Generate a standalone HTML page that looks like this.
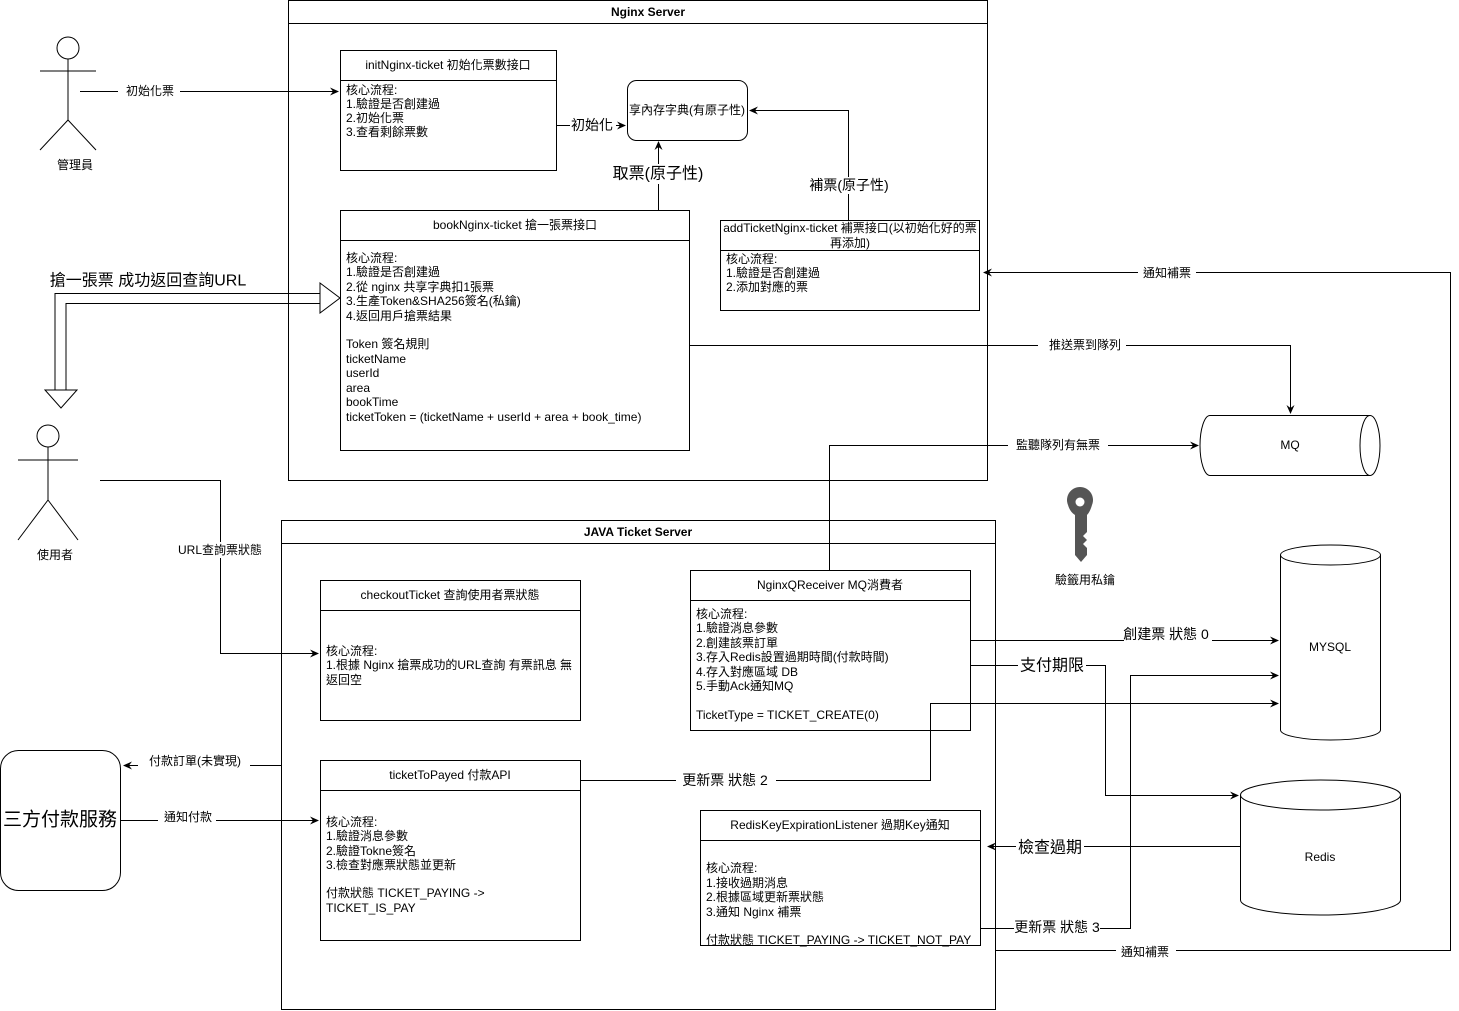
<!DOCTYPE html>
<html><head><meta charset="utf-8"><style>
html,body{margin:0;padding:0;background:#fff;}
svg{display:block;font-family:"Liberation Sans","Noto Sans CJK TC",sans-serif;}
text{dominant-baseline:central;fill:#000;}
</style></head><body>
<svg width="1459" height="1011" viewBox="0 0 1459 1011" xmlns="http://www.w3.org/2000/svg">
<defs>
<marker id="a" markerWidth="10" markerHeight="10" refX="8" refY="4" orient="auto" markerUnits="userSpaceOnUse"><path d="M0,0 L9,4 L0,8 L3,4 z" fill="#000"/></marker>
</defs>
<g fill="none" stroke="#000" stroke-width="1">
<!-- Nginx frame -->
<rect x="288.5" y="0.5" width="699" height="480"/>
<line x1="288" y1="23.5" x2="988" y2="23.5"/>
<!-- init box -->
<rect x="340.5" y="50.5" width="216" height="120"/>
<line x1="340" y1="80.5" x2="557" y2="80.5"/>
<rect x="627.5" y="80.5" width="120" height="60" rx="9"/>
<rect x="340.5" y="210.5" width="349" height="240"/>
<line x1="340" y1="240.5" x2="690" y2="240.5"/>
<rect x="720.5" y="220.5" width="259" height="90"/>
<line x1="720" y1="250.5" x2="980" y2="250.5"/>
<!-- MQ cylinder -->
<path d="M1210,415.5 H1370 A10,30 0 0 1 1370,475.5 H1210 A10,30 0 0 1 1210,415.5 Z"/>
<path d="M1370,415.5 A10,30 0 0 0 1370,475.5"/>
<!-- Java frame -->
<rect x="281.5" y="520.5" width="714" height="489"/>
<line x1="281" y1="543.5" x2="996" y2="543.5"/>
<rect x="320.5" y="580.5" width="260" height="140"/>
<line x1="320" y1="610.5" x2="581" y2="610.5"/>
<rect x="690.5" y="570.5" width="280" height="160"/>
<line x1="690" y1="600.5" x2="971" y2="600.5"/>
<rect x="320.5" y="760.5" width="260" height="180"/>
<line x1="320" y1="790.5" x2="581" y2="790.5"/>
<rect x="700.5" y="810.5" width="280" height="135"/>
<line x1="700" y1="840.5" x2="981" y2="840.5"/>
<!-- MYSQL -->
<path d="M1280.5,555 V730 A50,10 0 0 0 1380.5,730 V555"/>
<ellipse cx="1330.5" cy="555" rx="50" ry="10"/>
<!-- Redis -->
<path d="M1240.5,795 V900 A80,15 0 0 0 1400.5,900 V795"/>
<ellipse cx="1320.5" cy="795" rx="80" ry="15"/>
<!-- 三方 -->
<rect x="0.5" y="750.5" width="120" height="140" rx="18"/>
<!-- actors -->
<circle cx="68" cy="48" r="11"/>
<line x1="68" y1="59" x2="68" y2="120"/><line x1="40" y1="71" x2="96" y2="71"/>
<line x1="68" y1="120" x2="40" y2="150"/><line x1="68" y1="120" x2="96" y2="150"/>
<circle cx="48" cy="436" r="11"/>
<line x1="48" y1="447" x2="48" y2="500"/><line x1="18" y1="460" x2="78" y2="460"/>
<line x1="48" y1="500" x2="18" y2="540"/><line x1="48" y1="500" x2="78" y2="540"/>
<!-- hollow arrow -->
<path d="M55,390 V293.5 H320 M66,390 V303.5 H320"/>
<path d="M320,283 L340,298 L320,313 Z M45,390 L77,390 L61,408 Z" fill="#fff"/>
<!-- connectors -->
<g marker-end="url(#a)">
<path d="M80,91.5 H338"/>
<path d="M557,125.5 H625"/>
<path d="M658.5,210 V142"/>
<path d="M848.5,220 V110.5 H750"/>
<path d="M996,950.5 H1450.5 V272.5 H984"/>
<path d="M690,345.5 H1290.5 V413"/>
<path d="M829.5,570 V445.5 H1198"/>
<path d="M100,480.5 H220.5 V653.5 H318"/>
<path d="M281,765.5 H124"/>
<path d="M120,820.5 H318"/>
<path d="M580,780.5 H930.5 V703.5 H1278"/>
<path d="M970,640.5 H1278"/>
<path d="M970,665.5 H1105.5 V795.5 H1238"/>
<path d="M980,928.5 H1130.5 V675.5 H1278"/>
<path d="M1240,846.5 H988"/>
</g>
</g>
<!-- key -->
<g fill="#555">
<path d="M1068,505 A13,13 0 1 1 1092,505 Q1090,512 1087,515 V532 L1083,536 L1087,540 L1083,544 L1087,548 V555 L1081,562 L1075,555 V515 Q1070,512 1068,505 Z"/>
</g>
<circle cx="1080" cy="502" r="4.5" fill="#fff"/>
<!-- label backgrounds -->
<g fill="#fff">
<rect x="118" y="83" width="62" height="16"/><rect x="570" y="117" width="46" height="18"/>
<rect x="612" y="164" width="92" height="20"/><rect x="808" y="177" width="82" height="17"/>
<rect x="1138" y="265" width="58" height="16"/><rect x="1038" y="337" width="88" height="16"/>
<rect x="1008" y="437" width="100" height="16"/><rect x="170" y="542" width="100" height="16"/>
<rect x="138" y="753" width="112" height="16"/><rect x="158" y="809" width="58" height="16"/>
<rect x="676" y="772" width="100" height="17"/><rect x="1124" y="625" width="88" height="17"/>
<rect x="1018" y="655" width="68" height="20"/><rect x="1014" y="919" width="86" height="17"/>
<rect x="1016" y="838" width="68" height="20"/><rect x="1116" y="943" width="60" height="17"/>
</g>
<g font-size="12">
<text x="648" y="12" font-weight="bold" text-anchor="middle">Nginx Server</text>
<text x="448" y="65" text-anchor="middle">initNginx-ticket 初始化票數接口</text>
<text x="346" y="90">核心流程:</text><text x="346" y="104">1.驗證是否創建過</text>
<text x="346" y="118">2.初始化票</text><text x="346" y="132">3.查看剩餘票數</text>
<text x="687" y="110" text-anchor="middle">享內存字典(有原子性)</text>
<text x="515" y="225" text-anchor="middle">bookNginx-ticket 搶一張票接口</text>
<text x="346" y="258">核心流程:</text><text x="346" y="272">1.驗證是否創建過</text>
<text x="346" y="287">2.從 nginx 共享字典扣1張票</text><text x="346" y="301">3.生產Token&amp;SHA256簽名(私鑰)</text>
<text x="346" y="316">4.返回用戶搶票結果</text>
<text x="346" y="344">Token 簽名規則</text><text x="346" y="359">ticketName</text>
<text x="346" y="373">userId</text><text x="346" y="388">area</text><text x="346" y="402">bookTime</text>
<text x="346" y="417">ticketToken = (ticketName + userId + area + book_time)</text>
<text x="850" y="228" text-anchor="middle">addTicketNginx-ticket 補票接口(以初始化好的票</text>
<text x="850" y="243" text-anchor="middle">再添加)</text>
<text x="726" y="259">核心流程:</text><text x="726" y="273">1.驗證是否創建過</text><text x="726" y="287">2.添加對應的票</text>
<text x="1290" y="445" text-anchor="middle">MQ</text>
<text x="638" y="532" font-weight="bold" text-anchor="middle">JAVA Ticket Server</text>
<text x="450" y="595" text-anchor="middle">checkoutTicket 查詢使用者票狀態</text>
<text x="326" y="651">核心流程:</text><text x="326" y="665">1.根據 Nginx 搶票成功的URL查詢 有票訊息 無</text><text x="326" y="680">返回空</text>
<text x="830" y="585" text-anchor="middle">NginxQReceiver MQ消費者</text>
<text x="696" y="614">核心流程:</text><text x="696" y="628">1.驗證消息參數</text><text x="696" y="643">2.創建該票訂單</text>
<text x="696" y="657">3.存入Redis設置過期時間(付款時間)</text><text x="696" y="672">4.存入對應區域 DB</text>
<text x="696" y="686">5.手動Ack通知MQ</text><text x="696" y="715">TicketType = TICKET_CREATE(0)</text>
<text x="450" y="775" text-anchor="middle">ticketToPayed 付款API</text>
<text x="326" y="822">核心流程:</text><text x="326" y="836">1.驗證消息參數</text><text x="326" y="851">2.驗證Tokne簽名</text>
<text x="326" y="865">3.檢查對應票狀態並更新</text><text x="326" y="893">付款狀態 TICKET_PAYING -&gt;</text><text x="326" y="908">TICKET_IS_PAY</text>
<text x="840" y="825" text-anchor="middle">RedisKeyExpirationListener 過期Key通知</text>
<text x="706" y="868">核心流程:</text><text x="706" y="883">1.接收過期消息</text><text x="706" y="897">2.根據區域更新票狀態</text>
<text x="706" y="912">3.通知 Nginx 補票</text><text x="706" y="940">付款狀態 TICKET_PAYING -&gt; TICKET_NOT_PAY</text>
<text x="1330" y="647" text-anchor="middle">MYSQL</text>
<text x="1320" y="857" text-anchor="middle">Redis</text>
<text x="1085" y="580" text-anchor="middle">驗籤用私鑰</text>
<text x="75" y="165" text-anchor="middle">管理員</text>
<text x="55" y="555" text-anchor="middle">使用者</text>
<text x="150" y="91" text-anchor="middle">初始化票</text>
<text x="1167" y="273" text-anchor="middle">通知補票</text>
<text x="1085" y="345" text-anchor="middle">推送票到隊列</text>
<text x="1058" y="445" text-anchor="middle">監聽隊列有無票</text>
<text x="220" y="550" text-anchor="middle">URL查詢票狀態</text>
<text x="195" y="761" text-anchor="middle">付款訂單(未實現)</text>
<text x="188" y="817" text-anchor="middle">通知付款</text>
<text x="1145" y="952" text-anchor="middle">通知補票</text>
</g>
<g font-size="14">
<text x="592" y="125" text-anchor="middle">初始化</text>
<text x="849" y="185" text-anchor="middle">補票(原子性)</text>
<text x="725" y="780" text-anchor="middle">更新票 狀態 2</text>
<text x="1166" y="634" text-anchor="middle">創建票 狀態 0</text>
<text x="1057" y="927" text-anchor="middle">更新票 狀態 3</text>
</g>
<g font-size="16">
<text x="658" y="174" text-anchor="middle">取票(原子性)</text>
<text x="1052" y="666" text-anchor="middle">支付期限</text>
<text x="1050" y="848" text-anchor="middle">檢查過期</text>
<text x="148" y="281" text-anchor="middle">搶一張票 成功返回查詢URL</text>
</g>
<text x="60" y="820" font-size="19" text-anchor="middle">三方付款服務</text>
</svg>
</body></html>
